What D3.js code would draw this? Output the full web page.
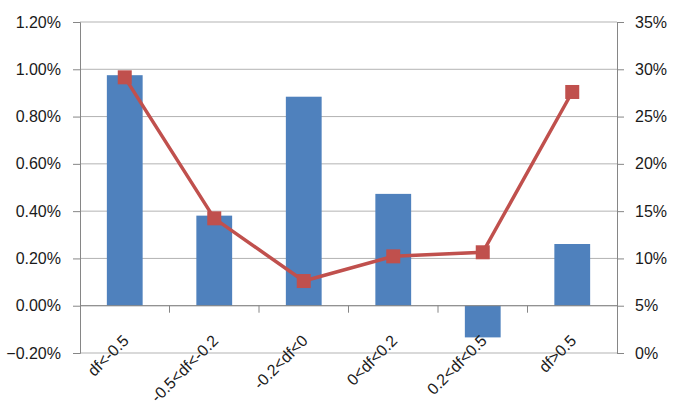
<!DOCTYPE html>
<html><head><meta charset="utf-8">
<script src="https://cdn.jsdelivr.net/npm/d3@7"></script>
<style>body{margin:0;background:#fff}text{font-family:"Liberation Sans",Arial,sans-serif;fill:#1a1a1a}</style>
</head><body><svg id="c" width="681" height="411"></svg>
<script>
const categories = ["df<-0.5","-0.5<df<-0.2","-0.2<df<0","0<df<0.2","0.2<df<0.5","df>0.5"];
const barValues = [0.00975, 0.00381, 0.00884, 0.00473, -0.00134, 0.00261];
const lineValues = [0.2915, 0.1424, 0.0761, 0.1022, 0.1065, 0.276];
const leftTicks = [-0.002,0,0.002,0.004,0.006,0.008,0.010,0.012];
const rightTicks = [0,0.05,0.10,0.15,0.20,0.25,0.30,0.35];

const svg = d3.select("#c");
const L = 80, R = 617, T = 22, B = 353;
const FONT = "'Liberation Sans',Arial,sans-serif";
const x = d3.scaleBand().domain(categories).range([L,R]).paddingInner(0.6).paddingOuter(0.3);
const xo = d3.scaleBand().domain(categories).range([L,R]);
const yl = d3.scaleLinear().domain([-0.002,0.012]).range([B,T]);
const yr = d3.scaleLinear().domain([0,0.35]).range([B,T]);

// gridlines
svg.append("g").selectAll("line").data(leftTicks).join("line")
  .attr("x1",L).attr("x2",R).attr("y1",d=>yl(d)).attr("y2",d=>yl(d))
  .attr("stroke","#b3b3b3").attr("stroke-width",1);

// bars
svg.append("g").selectAll("rect").data(barValues).join("rect")
  .attr("x",(d,i)=>x(categories[i])).attr("width",x.bandwidth())
  .attr("y",d=>yl(Math.max(0,d))).attr("height",d=>Math.abs(yl(d)-yl(0)))
  .attr("fill","#4F81BD");

// left axis
const ga = svg.append("g").attr("transform",`translate(${L},0)`)
  .call(d3.axisLeft(yl).tickValues(leftTicks).tickSize(7).tickPadding(12).tickFormat(d3.format(".2%")));
ga.select(".domain").attr("stroke","#868686");
ga.selectAll(".tick line").attr("stroke","#868686");
ga.selectAll("text").attr("font-size",16).attr("fill","#1a1a1a").style("font-family",FONT);

// right axis
const gr = svg.append("g").attr("transform",`translate(${R},0)`)
  .call(d3.axisRight(yr).tickValues(rightTicks).tickSize(7).tickPadding(11).tickFormat(d3.format(".0%")));
gr.select(".domain").attr("stroke","#868686");
gr.selectAll(".tick line").attr("stroke","#868686");
gr.selectAll("text").attr("font-size",16).attr("fill","#1a1a1a").style("font-family",FONT);

// x axis at 0
const y0 = yl(0);
svg.append("line").attr("x1",L).attr("x2",R).attr("y1",y0).attr("y2",y0).attr("stroke","#868686");
svg.append("g").selectAll("line").data(categories.slice(1)).join("line")
  .attr("x1",d=>xo(d)).attr("x2",d=>xo(d)).attr("y1",y0).attr("y2",y0+7).attr("stroke","#868686");
svg.append("g").selectAll("text").data(categories).join("text")
  .attr("transform",d=>`translate(${xo(d)+xo.bandwidth()/2+5},${y0+36}) rotate(-45)`)
  .attr("text-anchor","end").attr("font-size",16).text(d=>d);

// line
const cx = i => x(categories[i]) + x.bandwidth()/2;
svg.append("path").datum(lineValues)
  .attr("d", d3.line().x((d,i)=>cx(i)).y(d=>yr(d)))
  .attr("fill","none").attr("stroke","#C0504D").attr("stroke-width",3.5);
svg.append("g").selectAll("rect").data(lineValues).join("rect")
  .attr("x",(d,i)=>cx(i)-7).attr("y",d=>yr(d)-7).attr("width",14).attr("height",14)
  .attr("fill","#C0504D");
</script></body></html>
